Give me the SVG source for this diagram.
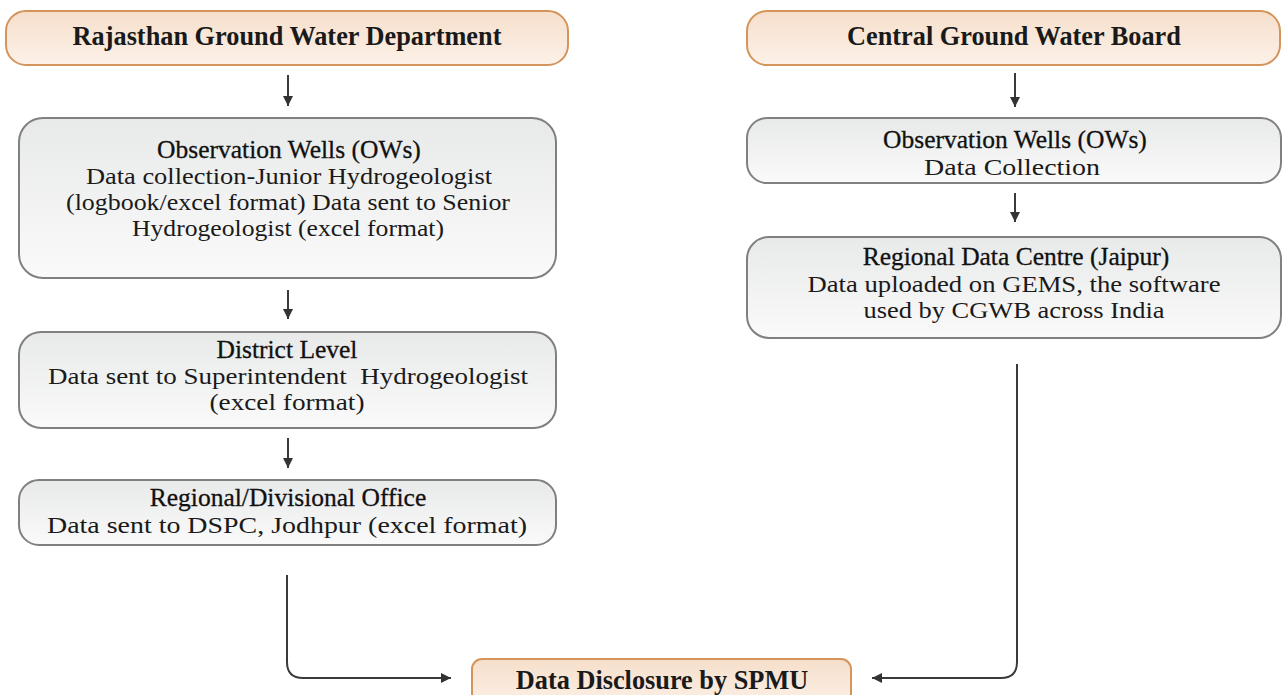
<svg xmlns="http://www.w3.org/2000/svg" width="1283" height="695" viewBox="0 0 1283 695">
  <defs>
    <linearGradient id="peach" x1="0" y1="0" x2="0" y2="1">
      <stop offset="0" stop-color="#f6dfcb"/>
      <stop offset="1" stop-color="#fcf1e8"/>
    </linearGradient>
    <linearGradient id="grey" x1="0" y1="0" x2="0" y2="1">
      <stop offset="0" stop-color="#e8e9e9"/>
      <stop offset="1" stop-color="#fafafa"/>
    </linearGradient>
    <marker id="head" viewBox="0 0 10 10" refX="10" refY="5" markerWidth="5" markerHeight="5" markerUnits="strokeWidth" orient="auto">
      <path d="M0,0 L10,5 L0,10 z" fill="#333"/>
    </marker>
    <style>
      text { text-anchor: middle; fill: #1a1a1a; }
      .hdr { fill: url(#peach); stroke: #d4955c; stroke-width: 2; }
      .box { fill: url(#grey); stroke: #808080; stroke-width: 2; }
      .bold { font-weight: bold; font-size: 26.3px; }
      .title { font-size: 25.5px; fill: #111; stroke: #111; stroke-width: 0.3; }
      .body { font-size: 24px; }
      .link { fill: none; stroke: #3a3a3a; stroke-width: 2; marker-end: url(#head); }
    </style>
  </defs>

  <!-- left column: state department -->
  <g id="rgwd">
    <rect class="hdr" x="6" y="11" width="562" height="54" rx="20"/>
    <text class="bold" font-family="Liberation Serif, serif" x="287" y="45">Rajasthan Ground Water Department</text>
  </g>
  <g id="ow-left">
    <rect class="box" x="19" y="118" width="537" height="160" rx="24"/>
    <text class="title" font-family="Liberation Serif, serif" x="289" y="158">Observation Wells (OWs)</text>
    <text class="body" font-family="Liberation Serif, serif" x="289" y="184" textLength="406" lengthAdjust="spacingAndGlyphs">Data collection-Junior Hydrogeologist</text>
    <text class="body" font-family="Liberation Serif, serif" x="288" y="210" textLength="444" lengthAdjust="spacingAndGlyphs">(logbook/excel format) Data sent to Senior</text>
    <text class="body" font-family="Liberation Serif, serif" x="288" y="236" textLength="312" lengthAdjust="spacingAndGlyphs">Hydrogeologist (excel format)</text>
  </g>
  <g id="district">
    <rect class="box" x="19" y="332" width="537" height="96" rx="22"/>
    <text class="title" font-family="Liberation Serif, serif" x="287" y="358">District Level</text>
    <text class="body" font-family="Liberation Serif, serif" x="288" y="384" textLength="480" lengthAdjust="spacingAndGlyphs" xml:space="preserve">Data sent to Superintendent  Hydrogeologist</text>
    <text class="body" font-family="Liberation Serif, serif" x="287" y="410" textLength="155" lengthAdjust="spacingAndGlyphs">(excel format)</text>
  </g>
  <g id="regional-office">
    <rect class="box" x="19" y="480" width="537" height="65" rx="20"/>
    <text class="title" font-family="Liberation Serif, serif" x="288" y="506">Regional/Divisional Office</text>
    <text class="body" font-family="Liberation Serif, serif" x="287" y="533" textLength="480" lengthAdjust="spacingAndGlyphs">Data sent to DSPC, Jodhpur (excel format)</text>
  </g>

  <!-- right column: central board -->
  <g id="cgwb">
    <rect class="hdr" x="747" y="11" width="533" height="54" rx="20"/>
    <text class="bold" font-family="Liberation Serif, serif" x="1014" y="45">Central Ground Water Board</text>
  </g>
  <g id="ow-right">
    <rect class="box" x="747" y="118" width="534" height="65" rx="20"/>
    <text class="title" font-family="Liberation Serif, serif" x="1015" y="148">Observation Wells (OWs)</text>
    <text class="body" font-family="Liberation Serif, serif" x="1012" y="175" textLength="176" lengthAdjust="spacingAndGlyphs">Data Collection</text>
  </g>
  <g id="rdc">
    <rect class="box" x="747" y="237" width="534" height="101" rx="22"/>
    <text class="title" font-family="Liberation Serif, serif" x="1016" y="265">Regional Data Centre (Jaipur)</text>
    <text class="body" font-family="Liberation Serif, serif" x="1014" y="292" textLength="413" lengthAdjust="spacingAndGlyphs">Data uploaded on GEMS, the software</text>
    <text class="body" font-family="Liberation Serif, serif" x="1014" y="318" textLength="301" lengthAdjust="spacingAndGlyphs">used by CGWB across India</text>
  </g>

  <!-- shared output -->
  <g id="spmu">
    <rect class="hdr" x="472" y="659" width="379" height="50" rx="10"/>
    <text class="bold" font-family="Liberation Serif, serif" x="662" y="689">Data Disclosure by SPMU</text>
  </g>

  <g id="connectors">
    <line class="link" x1="288" y1="75" x2="288" y2="106"/>
    <line class="link" x1="288" y1="290" x2="288" y2="319"/>
    <line class="link" x1="288" y1="438" x2="288" y2="468"/>
    <line class="link" x1="1015" y1="73" x2="1015" y2="107"/>
    <line class="link" x1="1015" y1="193" x2="1015" y2="222"/>
    <path class="link" d="M287,575 V662 Q287,678 303,678 H451"/>
    <path class="link" d="M1017,364 V662 Q1017,678 1001,678 H872"/>
  </g>
</svg>
